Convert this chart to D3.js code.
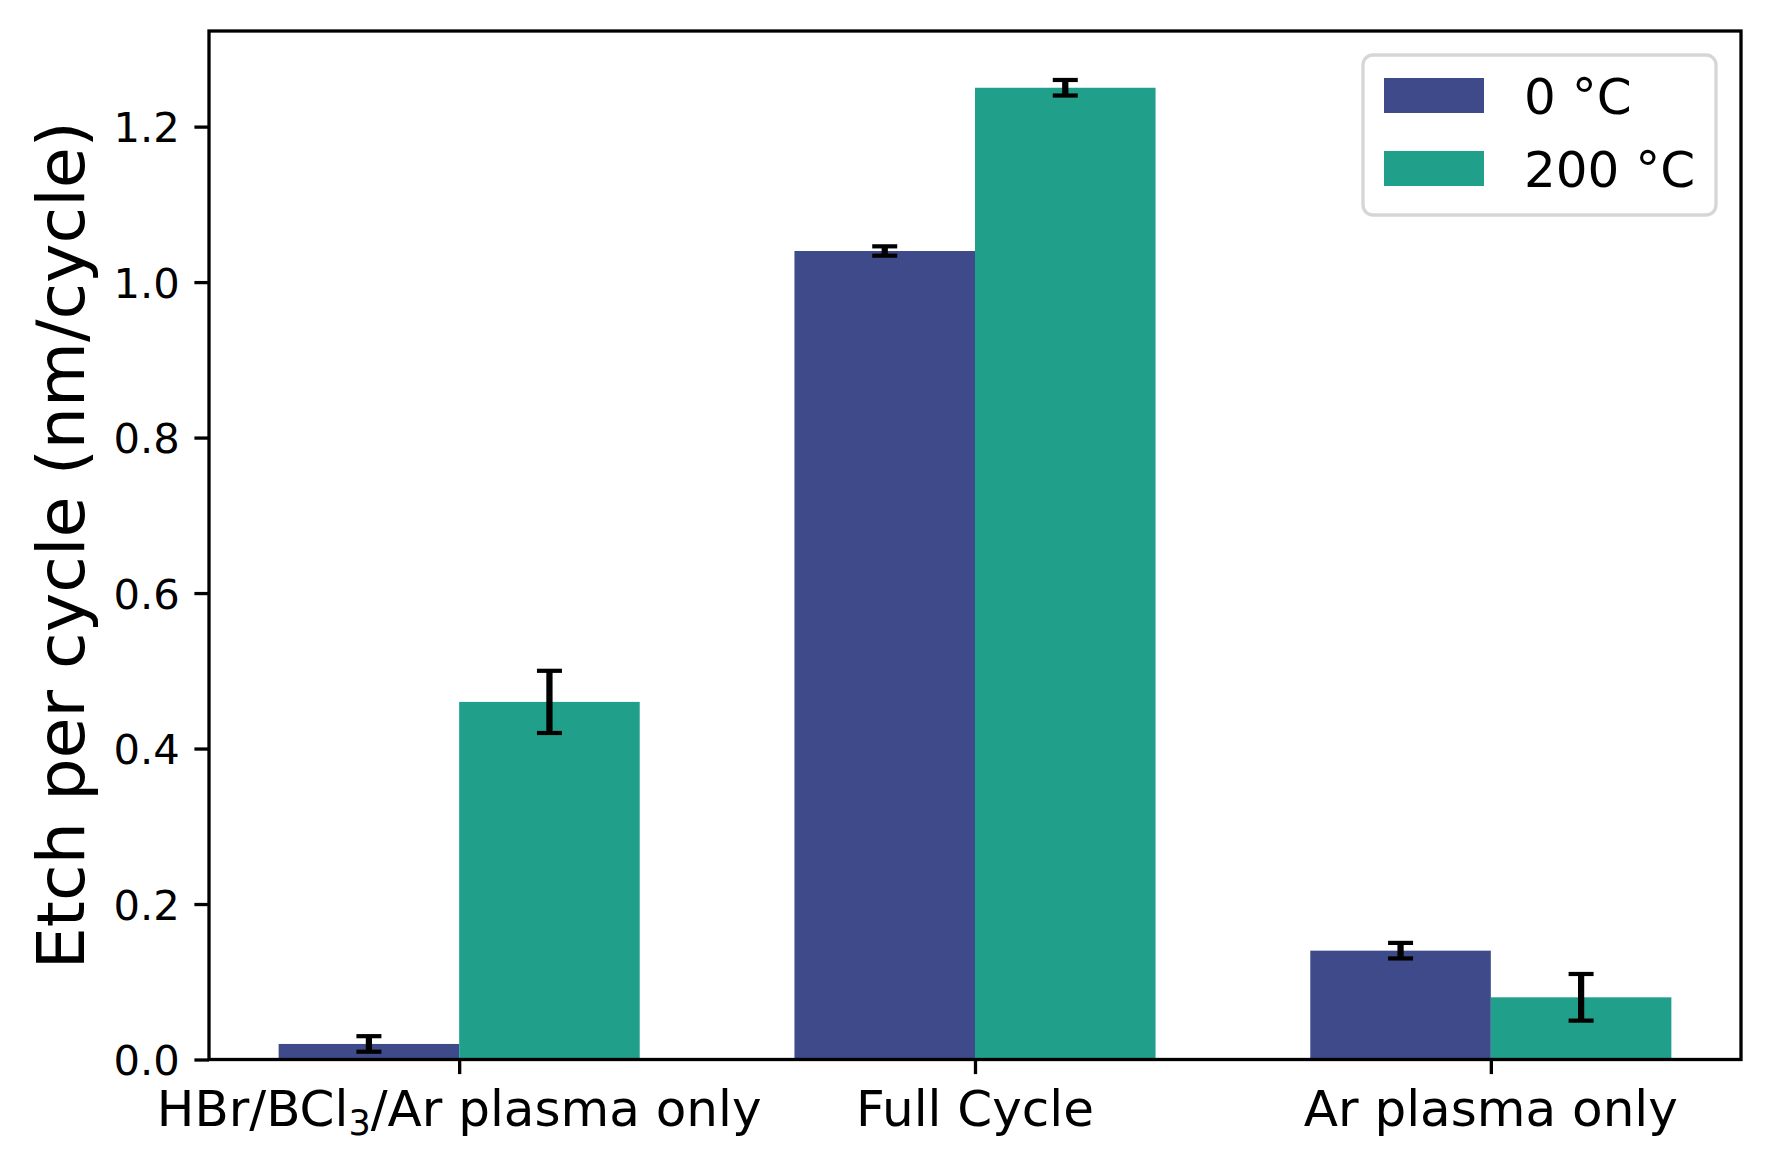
<!DOCTYPE html>
<html>
<head>
<meta charset="utf-8">
<script src="https://cdn.jsdelivr.net/npm/d3@7"></script>
<style>
  html, body { margin: 0; padding: 0; background: #fff; }
  svg { display: block; font-family: "DejaVu Sans", sans-serif; }
</style>
</head>
<body>
<svg id="chart" width="1770" height="1170"></svg>
<script>
// ---- data ----
const categories = ["HBr/BCl3/Ar plasma only", "Full Cycle", "Ar plasma only"];
const seriesNames = ["0 °C", "200 °C"];
const values0 = [0.02, 1.04, 0.14];
const errors0 = [0.01, 0.006, 0.01];
const values200 = [0.46, 1.25, 0.08];
const errors200 = [0.04, 0.01, 0.03];
const yTicks = [0.0, 0.2, 0.4, 0.6, 0.8, 1.0, 1.2];
const seriesColors = ["#3e4a89", "#20a08a"];

// ---- layout ----
const W = 1770, H = 1170;
const plot = { left: 209, right: 1741, top: 31, bottom: 1059.5 };
const barWidth = 0.35;

const svg = d3.select("#chart");
svg.append("rect").attr("width", W).attr("height", H).attr("fill", "#fff");

const x = d3.scaleLinear().domain([-0.485, 2.485]).range([plot.left, plot.right]);
const y = d3.scaleLinear().domain([0, 1.323]).range([plot.bottom, plot.top]);

const series = [
  { name: seriesNames[0], values: values0, errors: errors0, color: seriesColors[0], offset: -barWidth / 2 },
  { name: seriesNames[1], values: values200, errors: errors200, color: seriesColors[1], offset: barWidth / 2 }
];

// bars
const gBars = svg.append("g");
series.forEach(s => {
  gBars.selectAll(null)
    .data(s.values.map((v, i) => ({ i, v })))
    .enter().append("rect")
    .attr("x", d => x(d.i + s.offset - barWidth / 2))
    .attr("width", d => x(d.i + s.offset + barWidth / 2) - x(d.i + s.offset - barWidth / 2))
    .attr("y", d => y(d.v))
    .attr("height", d => y(0) - y(d.v))
    .attr("fill", s.color);
});

// error bars
const gErr = svg.append("g").attr("stroke", "#000");
const capHalf = 12.5;
series.forEach(s => {
  const data = s.values.map((v, i) => ({ i, v, e: s.errors[i] }));
  gErr.selectAll(null).data(data).enter().append("line")
    .attr("x1", d => x(d.i + s.offset)).attr("x2", d => x(d.i + s.offset))
    .attr("y1", d => y(d.v - d.e)).attr("y2", d => y(d.v + d.e))
    .attr("stroke-width", 6.25);
  ["lo", "hi"].forEach(k => {
    gErr.selectAll(null).data(data).enter().append("line")
      .attr("x1", d => x(d.i + s.offset) - capHalf).attr("x2", d => x(d.i + s.offset) + capHalf)
      .attr("y1", d => y(k === "lo" ? d.v - d.e : d.v + d.e))
      .attr("y2", d => y(k === "lo" ? d.v - d.e : d.v + d.e))
      .attr("stroke-width", 4.2);
  });
});

// axes
const yAxis = d3.axisLeft(y).tickValues(yTicks).tickFormat(d3.format(".1f")).tickSize(14.6).tickPadding(14.6);
const gy = svg.append("g").attr("transform", `translate(${plot.left},0)`).call(yAxis);
gy.select(".domain").remove();
gy.selectAll(".tick line").attr("stroke", "#000").attr("stroke-width", 3.3);
gy.selectAll(".tick text").attr("font-size", 41.7).attr("fill", "#000")
  .attr("font-family", "DejaVu Sans").attr("dy", "0.36em");

const xAxis = d3.axisBottom(x).tickValues([0, 1, 2]).tickFormat("").tickSize(14.6);
const gx = svg.append("g").attr("transform", `translate(0,${plot.bottom})`).call(xAxis);
gx.select(".domain").remove();
gx.selectAll(".tick line").attr("stroke", "#000").attr("stroke-width", 3.3);

// category labels (with subscript)
const gLab = svg.append("g").attr("font-size", 50).attr("fill", "#000").attr("text-anchor", "middle");
categories.forEach((c, i) => {
  const t = gLab.append("text").attr("x", x(i)).attr("y", 1126);
  const m = c.match(/^(.*BCl)3(.*)$/);
  if (m) {
    t.append("tspan").text(m[1]);
    t.append("tspan").text("3").attr("font-size", 35).attr("dy", 9);
    t.append("tspan").text(m[2]).attr("dy", -9);
  } else {
    t.text(c);
  }
});

// frame
svg.append("rect")
  .attr("x", plot.left).attr("y", plot.top)
  .attr("width", plot.right - plot.left).attr("height", plot.bottom - plot.top)
  .attr("fill", "none").attr("stroke", "#000").attr("stroke-width", 3.3);

// y label
svg.append("text")
  .attr("transform", `translate(84,${(plot.top + plot.bottom) / 2}) rotate(-90)`)
  .attr("text-anchor", "middle").attr("font-size", 66.7).attr("fill", "#000")
  .text("Etch per cycle (nm/cycle)");

// legend
const leg = svg.append("g");
leg.append("rect").attr("x", 1363).attr("y", 55).attr("width", 353).attr("height", 160)
  .attr("rx", 10).attr("ry", 10)
  .attr("fill", "#fff").attr("fill-opacity", 0.8)
  .attr("stroke", "#d6d6d6").attr("stroke-width", 3.3);
series.forEach((s, k) => {
  const cy = 95.5 + k * 73;
  leg.append("rect").attr("x", 1384).attr("y", cy - 17.5).attr("width", 100).attr("height", 35).attr("fill", s.color);
  leg.append("text").attr("x", 1524).attr("y", cy + 18.5).attr("font-size", 50).attr("fill", "#000").text(s.name);
});
</script>
</body>
</html>
